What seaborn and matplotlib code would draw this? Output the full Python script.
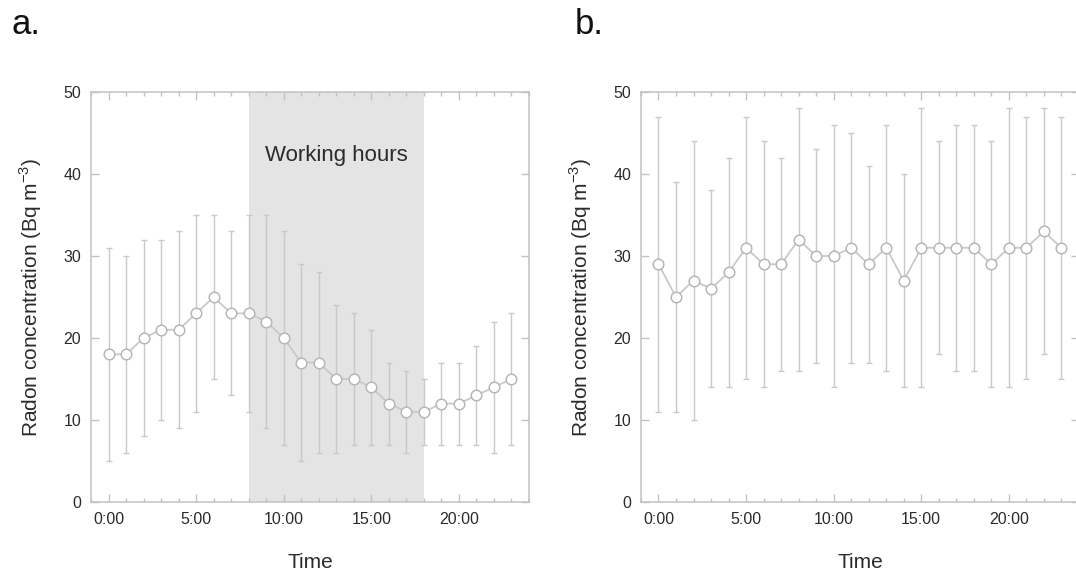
import matplotlib
matplotlib.use("Agg")
import matplotlib.pyplot as plt
from matplotlib.ticker import MultipleLocator, FixedLocator
import numpy as np
import pandas as pd
import seaborn as sns

# Hourly radon concentration (Bq m^-3): mean with lower/upper bar ends
hours = list(range(24))
hour_labels = ["0:00", "5:00", "10:00", "15:00", "20:00"]

office_mean = [18, 18, 20, 21, 21, 23, 25, 23, 23, 22, 20, 17,
               17, 15, 15, 14, 12, 11, 11, 12, 12, 13, 14, 15]
office_low = [5, 6, 8, 10, 9, 11, 15, 13, 11, 9, 7, 5,
              6, 6, 7, 7, 7, 6, 7, 7, 7, 7, 6, 7]
office_high = [31, 30, 32, 32, 33, 35, 35, 33, 35, 35, 33, 29,
               28, 24, 23, 21, 17, 16, 15, 17, 17, 19, 22, 23]

home_mean = [29, 25, 27, 26, 28, 31, 29, 29, 32, 30, 30, 31,
             29, 31, 27, 31, 31, 31, 31, 29, 31, 31, 33, 31]
home_low = [11, 11, 10, 14, 14, 15, 14, 16, 16, 17, 14, 17,
            17, 16, 14, 14, 18, 16, 16, 14, 14, 15, 18, 15]
home_high = [47, 39, 44, 38, 42, 47, 44, 42, 48, 43, 46, 45,
             41, 46, 40, 48, 44, 46, 46, 44, 48, 47, 48, 47]

work_start, work_end = 8, 18

sns.set_theme(style="white")
plt.rcParams["font.family"] = ["Liberation Sans", "DejaVu Sans"]

LINE = "#c9c9c9"
EDGE = "#b7b7b7"
SPINE = "#c2c2c2"
TEXT = "#2b2b2b"

fig = plt.figure(figsize=(10.76, 5.8), dpi=100)
ax_a = fig.add_axes([0.0846, 0.1345, 0.4070, 0.7069])
ax_b = fig.add_axes([0.5957, 0.1345, 0.4070, 0.7069])


def draw_panel(ax, mean, low, high):
    df = pd.DataFrame({"hour": hours, "mean": mean})
    m = np.array(mean)
    yerr = np.vstack([m - np.array(low), np.array(high) - m])
    ax.errorbar(df["hour"], df["mean"], yerr=yerr, fmt="none",
                ecolor=LINE, elinewidth=1.0, capsize=2.4, capthick=1.0,
                zorder=2)
    sns.lineplot(data=df, x="hour", y="mean", ax=ax, color=LINE,
                 linewidth=1.3, marker="o", markersize=7.6,
                 markerfacecolor="white", markeredgecolor=EDGE,
                 markeredgewidth=1.1, zorder=3)
    ax.set_xlim(-1, 24)
    ax.set_ylim(0, 50)
    ax.xaxis.set_major_locator(FixedLocator([0, 5, 10, 15, 20]))
    ax.set_xticklabels(hour_labels)
    ax.xaxis.set_minor_locator(MultipleLocator(1))
    ax.yaxis.set_major_locator(MultipleLocator(10))
    ax.tick_params(which="both", direction="in", top=True, right=True,
                   bottom=True, left=True, color=SPINE, width=1.0)
    ax.tick_params(which="major", length=5.5, pad=7,
                   labelsize=11.5, labelcolor=TEXT)
    ax.tick_params(which="minor", length=3)
    for s in ax.spines.values():
        s.set_color(SPINE)
        s.set_linewidth(1.1)
    ax.set_xlabel("Time", fontsize=15, color=TEXT, labelpad=19)
    ax.set_ylabel(r"Radon concentration (Bq m$^{\mathregular{-3}}$)",
                  fontsize=15, color=TEXT, labelpad=14)


ax_a.axvspan(work_start, work_end, color="#e4e4e4", lw=0, zorder=0)
draw_panel(ax_a, office_mean, office_low, office_high)
ax_a.text((work_start + work_end) / 2, 42.2, "Working hours", ha="center",
          va="center", fontsize=16, color=TEXT)

draw_panel(ax_b, home_mean, home_low, home_high)

fig.text(0.011, 0.942, "a.", fontsize=25, color="#111111", va="baseline")
fig.text(0.534, 0.942, "b.", fontsize=25, color="#111111", va="baseline")

fig.savefig("out.png", dpi=100)
